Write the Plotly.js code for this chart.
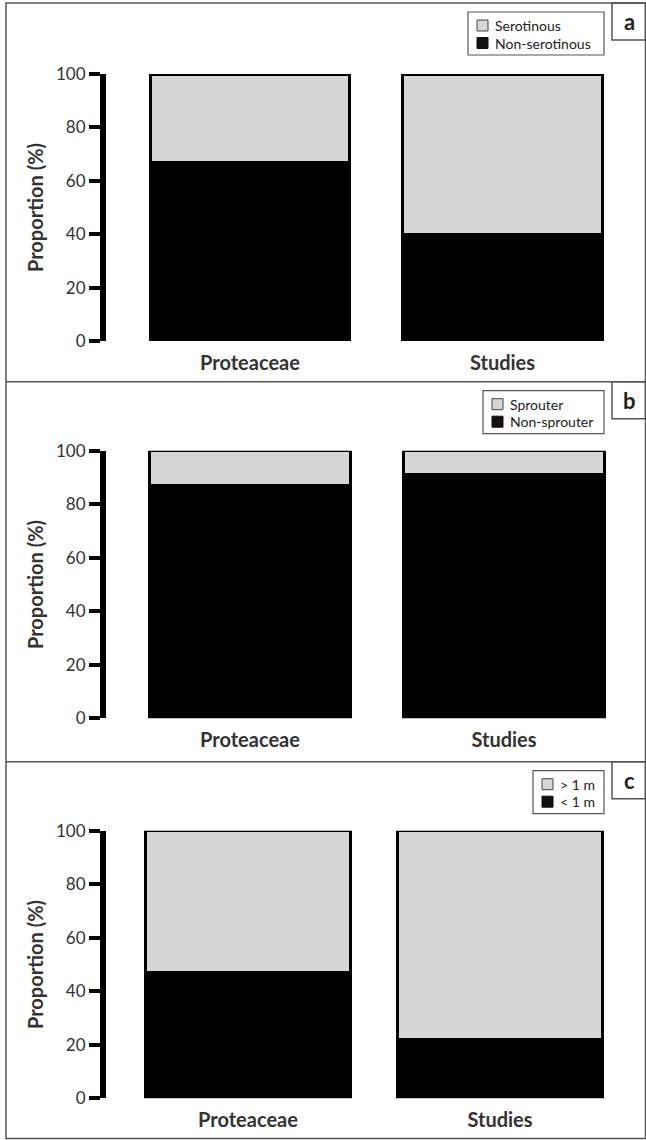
<!DOCTYPE html>
<html><head><meta charset="utf-8">
<script src="https://cdn.plot.ly/plotly-3.0.1.min.js"></script>
<style>html,body{margin:0;padding:0;background:#fff;} #chart{width:646px;height:1140px;}</style>
</head><body><div id="chart"></div>
<script>
// ---- data ----
const categories = ['Proteaceae', 'Studies'];
const nonSerotinous = [67, 40];
const serotinous = [33, 60];
const nonSprouter = [87, 91];
const sprouter = [13, 9];
const below1m = [47, 22];
const above1m = [53, 78];
const yTickVals = [0, 20, 40, 60, 80, 100];
const panelLetters = ['a', 'b', 'c'];
const legendTop = ['Serotinous', 'Sprouter', '> 1 m'];
const legendBottom = ['Non-serotinous', 'Non-sprouter', '< 1 m'];
const yTitle = 'Proportion (%)';

// ---- layout helpers ----
const W = 646, H = 1140;
const px = x => x / W, py = y => 1 - y / H;
const FONT = 'Lato, "Open Sans", sans-serif';
const TXT = '#333333';
const GRAY = '#d6d6d6';
const FRAME = '#555555';

const panels = [
  {bottom: nonSerotinous, top: serotinous, y100: 74, y0: 341, c0: 250, c1: 502.5, bw: 0.79, topY: 3, legLeft: 468},
  {bottom: nonSprouter, top: sprouter, y100: 450.7, y0: 718.3, c0: 250, c1: 504, bw: 0.79, topY: 381.7, legLeft: 483},
  {bottom: below1m, top: above1m, y100: 830.7, y0: 1098.3, c0: 248, c1: 500, bw: 0.81, topY: 761.7, legLeft: 533}
];
const L = 106, R = 640;

const data = [];
const layout = {
  width: W, height: H,
  margin: {l: 0, r: 0, t: 0, b: 0},
  paper_bgcolor: '#fff', plot_bgcolor: '#fff',
  barmode: 'stack',
  showlegend: false,
  font: {family: FONT, color: TXT},
  shapes: [], annotations: []
};

panels.forEach((p, i) => {
  const n = i === 0 ? '' : String(i + 1);
  const unit = p.c1 - p.c0;
  data.push({
    type: 'bar', x: categories, y: p.bottom, name: legendBottom[i],
    xaxis: 'x' + n, yaxis: 'y' + n, width: p.bw,
    marker: {color: '#000', line: {color: '#000', width: 3}},
    hoverinfo: 'x+y+name'
  });
  data.push({
    type: 'bar', x: categories, y: p.top, name: legendTop[i],
    xaxis: 'x' + n, yaxis: 'y' + n, width: p.bw,
    marker: {color: GRAY, line: {color: '#000', width: 3}},
    hoverinfo: 'x+y+name'
  });
  layout['xaxis' + n] = {
    domain: [px(L), px(R)], anchor: 'y' + n,
    type: 'category', categoryarray: categories,
    range: [(L - p.c0) / unit, (R - p.c0) / unit],
    showline: false, showgrid: false, zeroline: false, ticks: '',
    ticklabelstandoff: 8,
    tickfont: {family: FONT, size: 20, weight: 'bold', color: TXT},
    fixedrange: true
  };
  layout['yaxis' + n] = {
    domain: [py(p.y0), py(p.y100)], anchor: 'x' + n,
    range: [0, 100], tickvals: yTickVals,
    showline: true, linecolor: '#000', linewidth: 6,
    ticks: 'outside', ticklen: 11, tickwidth: 4, tickcolor: '#000',
    showgrid: false, zeroline: false,
    tickfont: {family: FONT, size: 17, color: TXT},
    title: {text: yTitle, font: {family: FONT, size: 20, weight: 'bold', color: TXT}, standoff: 9},
    fixedrange: true
  };
  // panel letter box
  layout.shapes.push({type: 'rect', xref: 'paper', yref: 'paper',
    x0: px(612), x1: px(645.5), y0: py(p.topY), y1: py(p.topY + 37),
    line: {color: FRAME, width: 1.5}});
  layout.annotations.push({xref: 'paper', yref: 'paper', x: px(629), y: py(p.topY + 18.5),
    text: panelLetters[i], showarrow: false, xanchor: 'center', yanchor: 'middle',
    font: {family: FONT, size: 22, weight: 'bold', color: '#222'}});
  // legend box
  const lt = p.topY + 9;
  layout.shapes.push({type: 'rect', xref: 'paper', yref: 'paper',
    x0: px(p.legLeft), x1: px(604), y0: py(lt), y1: py(lt + 43),
    line: {color: FRAME, width: 1.2}});
  layout.shapes.push({type: 'rect', xref: 'paper', yref: 'paper',
    x0: px(p.legLeft + 9), x1: px(p.legLeft + 20), y0: py(lt + 8), y1: py(lt + 19),
    fillcolor: GRAY, line: {color: '#444', width: 1}});
  layout.shapes.push({type: 'rect', xref: 'paper', yref: 'paper',
    x0: px(p.legLeft + 9), x1: px(p.legLeft + 20), y0: py(lt + 25.5), y1: py(lt + 36.5),
    fillcolor: '#111', line: {color: '#111', width: 1}});
  layout.annotations.push({xref: 'paper', yref: 'paper', x: px(p.legLeft + 25), y: py(lt + 13.5),
    text: legendTop[i], showarrow: false, xanchor: 'left', yanchor: 'middle',
    font: {family: FONT, size: 14, color: '#222'}});
  layout.annotations.push({xref: 'paper', yref: 'paper', x: px(p.legLeft + 25), y: py(lt + 31),
    text: legendBottom[i], showarrow: false, xanchor: 'left', yanchor: 'middle',
    font: {family: FONT, size: 14, color: '#222'}});
});

// outer frame and dividers
layout.shapes.push({type: 'rect', xref: 'paper', yref: 'paper',
  x0: px(6), x1: px(645.5), y0: py(3), y1: py(1138.5), line: {color: FRAME, width: 1.5}});
[381.7, 761.7].forEach(y => layout.shapes.push({type: 'line', xref: 'paper', yref: 'paper',
  x0: px(6), x1: px(645.5), y0: py(y), y1: py(y), line: {color: FRAME, width: 1.5}}));

Plotly.newPlot('chart', data, layout, {displayModeBar: false, staticPlot: true});
</script></body></html>
